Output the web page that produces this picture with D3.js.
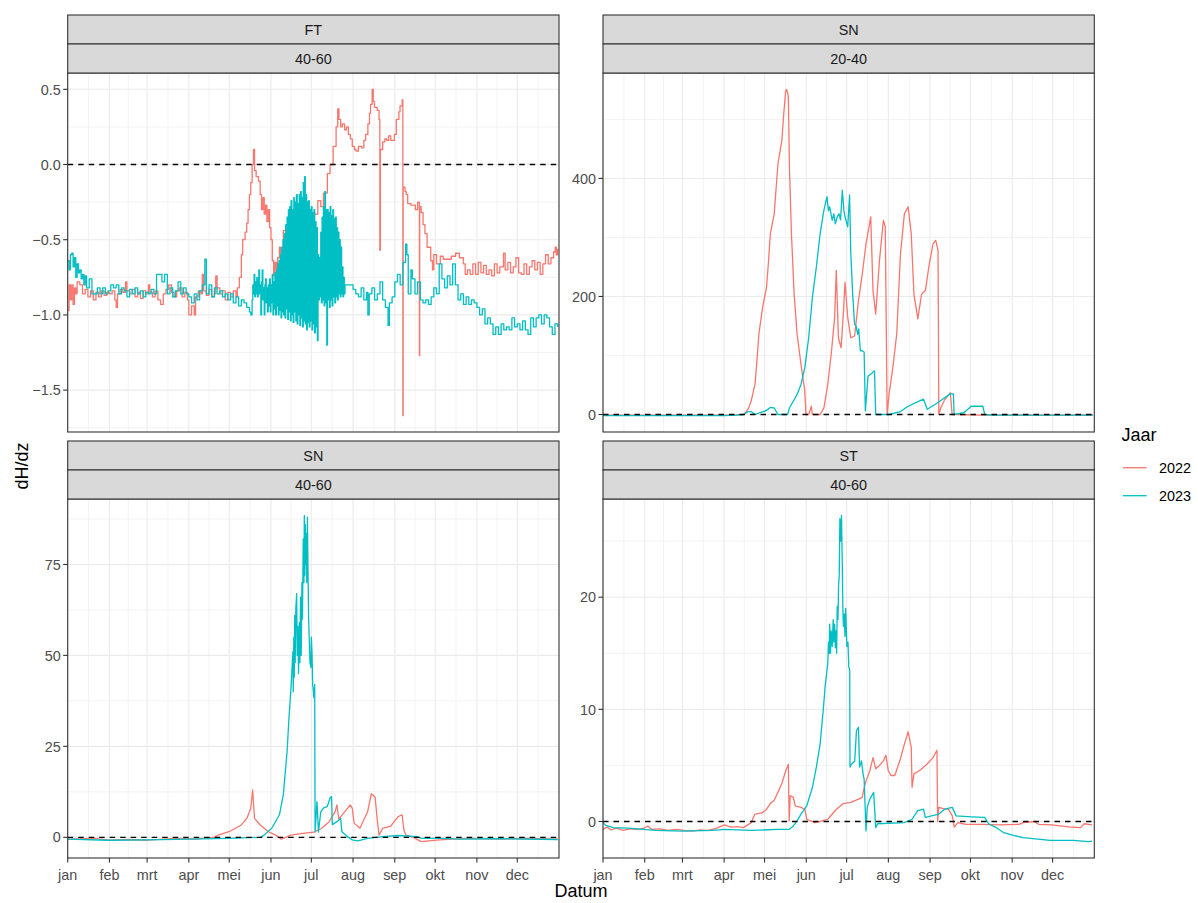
<!DOCTYPE html>
<html><head><meta charset="utf-8">
<script src="https://cdn.jsdelivr.net/npm/d3@7"></script>
<style>body{margin:0;background:#fff}svg{display:block;font-family:"Liberation Sans",Arial,sans-serif}</style>
</head><body><svg id="c" width="1198" height="903"></svg>
<script>
const monthLabels = ["jan","feb","mrt","apr","mei","jun","jul","aug","sep","okt","nov","dec"];
const yearLabels = ["2022","2023"];
const yearColors = ["#F8766D","#00BFC4"];
const stripTop = ["FT","SN","SN","ST"];
const stripBottom = ["40-60","20-40","40-60","40-60"];
const yTicks = [[-1.5,-1,-0.5,0,0.5],[0,200,400],[0,25,50,75],[0,10,20]];
const yFormats = [".1f","d","d","d"];
const stepPanels = [true,false,false,false];

// [day of year, dH/dz]
const ft4060_2022 = [[0,-0.97],[1,-0.8],[2,-0.9],[3,-0.8],[4,-0.93],[5,-0.82],[6,-0.86],[7,-0.78],[9,-0.8],[11,-0.86],[13,-0.83],[15,-0.88],[17,-0.84],[19,-0.9],[21,-0.85],[23,-0.88],[25,-0.84],[27,-0.87],[29,-0.85],[31,-0.86],[33,-0.84],[35,-0.9],[36,-0.95],[37,-0.86],[39,-0.83],[41,-0.85],[43,-0.78],[44,-0.84],[46,-0.86],[48,-0.83],[50,-0.88],[52,-0.85],[54,-0.89],[56,-0.84],[58,-0.86],[60,-0.8],[61,-0.85],[63,-0.88],[65,-0.84],[67,-0.9],[69,-0.93],[71,-0.86],[73,-0.83],[75,-0.8],[77,-0.85],[79,-0.88],[81,-0.84],[83,-0.82],[85,-0.88],[87,-0.85],[89,-0.9],[90,-1.0],[92,-0.94],[94,-1.0],[95,-0.88],[97,-0.84],[99,-0.86],[100,-0.73],[101,-0.84],[103,-0.87],[105,-0.83],[107,-0.88],[109,-0.86],[110,-0.74],[111,-0.82],[113,-0.86],[115,-0.84],[117,-0.9],[119,-0.85],[121,-0.88],[123,-0.84],[125,-0.88],[126,-0.82],[127.5,-0.75],[129,-0.6],[130,-0.5],[131.8,-0.45],[133,-0.39],[134,-0.3],[135,-0.2],[136,-0.12],[137,0.0],[138,0.1],[138.8,-0.04],[140,-0.08],[141.7,-0.11],[143,-0.2],[144,-0.3],[145,-0.22],[146,-0.33],[147,-0.27],[148,-0.38],[149,-0.3],[150,-0.42],[151,-0.5],[152,-0.64],[153,-0.74],[154,-0.65],[155,-0.7],[156,-0.62],[157.3,-0.55],[158,-0.6],[160.2,-0.44],[162,-0.42],[166,-0.38],[170,-0.4],[175,-0.35],[180,-0.37],[183,-0.33],[185.8,-0.24],[188,-0.28],[190,-0.19],[192.9,-0.06],[194.9,0.0],[197.2,0.12],[199.4,0.25],[200.6,0.37],[201.5,0.3],[202.8,0.25],[204,0.27],[205.7,0.23],[207,0.25],[208.5,0.2],[210,0.17],[211.4,0.12],[213,0.1],[214.2,0.09],[216,0.12],[218.5,0.11],[220,0.16],[221.3,0.2],[223,0.27],[224.2,0.34],[225,0.4],[226.2,0.5],[227,0.42],[227.9,0.38],[229.9,0.36],[231.3,0.3],[231.9,-0.57],[232.3,0.1],[232.7,0.1],[234,0.15],[235.6,0.17],[237,0.16],[238.4,0.19],[240,0.16],[242.7,0.2],[244.1,0.3],[246,0.35],[246.9,0.39],[248.5,0.43],[248.9,0.43],[249,-1.67],[249.2,-0.15],[250.6,-0.18],[251.5,-0.2],[252.6,-0.26],[255,-0.27],[258.3,-0.3],[260,-0.25],[261.2,-0.25],[261.3,-1.27],[261.5,-0.28],[262.6,-0.32],[264,-0.4],[265.4,-0.46],[267,-0.55],[269.7,-0.64],[271,-0.7],[272,-0.6],[274,-0.66],[276.8,-0.61],[279,-0.63],[282.5,-0.63],[285,-0.61],[288.2,-0.59],[291,-0.62],[293.9,-0.66],[295.3,-0.73],[297,-0.7],[299,-0.73],[301,-0.66],[303,-0.73],[305,-0.65],[307,-0.72],[309,-0.67],[311,-0.73],[313,-0.7],[315,-0.74],[317,-0.66],[319,-0.72],[321,-0.68],[323.8,-0.59],[325,-0.7],[327,-0.65],[329,-0.72],[331,-0.68],[333,-0.62],[335,-0.72],[337,-0.73],[339,-0.66],[341,-0.73],[343,-0.68],[345,-0.64],[347,-0.7],[349,-0.65],[351,-0.73],[353,-0.66],[355,-0.6],[357,-0.66],[359,-0.62],[361,-0.58],[362.2,-0.55],[363,-0.6],[364,-0.56]];
const ft4060_2023 = [[0,-0.64],[1,-0.7],[2,-0.6],[3,-0.59],[4,-0.68],[5,-0.62],[6,-0.75],[7,-0.66],[8,-0.72],[9,-0.7],[10,-0.76],[11,-0.73],[12,-0.8],[13,-0.74],[14,-0.82],[16,-0.76],[18,-0.86],[20,-0.86],[22,-0.82],[24,-0.86],[26,-0.82],[28,-0.86],[30,-0.84],[32,-0.8],[34,-0.82],[36,-0.8],[38,-0.86],[40,-0.82],[42,-0.84],[44,-0.88],[46,-0.83],[48,-0.86],[50,-0.82],[52,-0.86],[54,-0.84],[56,-0.88],[58,-0.85],[60,-0.86],[62,-0.83],[64,-0.86],[66,-0.73],[68,-0.73],[70,-0.78],[72,-0.73],[74,-0.86],[76,-0.82],[78,-0.88],[80,-0.84],[82,-0.78],[84,-0.86],[86,-0.82],[88,-0.86],[90,-0.88],[92,-0.92],[94,-0.86],[96,-0.9],[98,-0.84],[100,-0.8],[101.9,-0.63],[103,-0.86],[105,-0.8],[107,-0.88],[109,-0.82],[111,-0.86],[113,-0.84],[115,-0.88],[117,-0.86],[119,-0.9],[121,-0.86],[123,-0.92],[125,-0.88],[127,-0.94],[129,-0.9],[131,-0.92],[133,-0.95],[135,-0.98],[136,-1.0],
[137,-0.9],[137.5,-0.8],[138,-0.86],[138.5,-0.73],[139,-0.88],[139.5,-0.78],[140,-0.86],[140.5,-0.75],[141,-0.88],[141.5,-0.8],[142,-0.7],[142.5,-0.86],[143,-0.8],[143.5,-1.0],[144,-0.78],[144.5,-0.7],[145,-0.9],[145.5,-0.82],[146,-1.0],[146.5,-0.8],[147,-0.76],[147.5,-0.92],[148,-0.82],[148.5,-0.98],
[149,-0.8],[149.5,-0.94],[150,-0.76],[150.5,-0.98],[151,-0.8],[151.5,-0.92],[152,-0.73],[152.5,-1.0],[153,-0.78],[153.5,-0.96],[154,-0.72],[154.5,-1.0],[155,-0.7],[155.5,-0.94],[156,-0.66],[156.5,-1.0],[157,-0.64],[157.5,-0.97],[158,-0.6],[158.5,-1.02],[159,-0.55],[159.5,-0.98],[160,-0.5],[160.5,-1.0],[161,-0.46],[161.5,-1.02],[162,-0.4],[162.5,-0.96],[163,-0.35],[163.5,-1.03],[164,-0.3],[164.5,-0.98],[165,-0.28],[165.5,-1.04],[166,-0.24],[166.5,-1.0],[167,-0.3],[167.5,-1.05],[168,-0.22],[168.5,-0.98],[169,-0.25],[169.5,-1.04],[170,-0.2],[170.5,-1.06],[171,-0.26],[171.5,-1.0],[172,-0.2],[172.5,-1.07],[173,-0.18],[173.5,-1.02],[174,-0.22],[174.5,-1.08],[175,-0.12],[175.5,-1.04],[176,-0.08],[176.5,-1.06],[177,-0.2],[177.5,-1.1],[178,-0.25],[178.5,-1.05],[179,-0.24],[179.5,-1.08],[180,-0.3],[180.5,-1.04],[181,-0.28],[181.5,-1.1],[182,-0.32],[182.5,-1.06],[183,-0.3],[183.5,-1.12],[184,-0.38],[184.5,-1.08],[185,-0.42],[185.5,-1.17],[186,-0.6],[186.5,-0.9],[187,-0.62],[187.5,-0.88],[188,-0.45],[188.5,-0.92],[189,-0.35],[189.5,-0.9],[190,-0.28],[190.5,-0.94],[191,-0.18],[191.5,-0.92],[192,-0.3],[192.5,-1.2],[193,-0.3],[193.5,-0.9],[194,-0.32],[194.5,-0.95],[195,-0.28],[195.5,-0.9],[196,-0.34],[196.5,-0.94],[197,-0.3],[197.5,-0.88],[198,-0.36],[198.5,-0.92],[199,-0.35],[199.5,-0.88],[200,-0.42],[200.5,-0.9],[201,-0.45],[201.5,-0.86],[202,-0.5],[202.5,-0.88],[203,-0.55],[203.5,-0.86],[204,-0.68],[204.5,-0.88],[205,-0.75],[205.5,-0.86],[206,-0.8],
[207,-0.8],[208,-0.8],[210,-0.8],[212,-0.83],[214,-0.86],[216,-0.88],[218,-0.82],[220,-0.9],[222,-0.85],[223,-1.0],[224,-0.86],[226,-0.82],[228,-0.9],[230,-0.86],[232,-0.78],[234,-0.9],[236,-0.95],[238,-1.07],[239,-0.92],[241,-0.88],[243,-0.78],[245,-0.73],[247,-0.8],[249,-0.65],[251,-0.53],[252,-0.6],[253,-0.86],[255,-0.7],[256,-0.76],[258,-0.86],[260,-0.78],[262,-0.9],[264,-0.92],[266,-0.9],[268,-0.93],[270,-0.88],[272,-0.82],[274,-0.86],[276,-0.66],[278,-0.76],[280,-0.82],[282,-0.74],[284,-0.8],[286,-0.66],[288,-0.8],[290,-0.9],[292,-0.86],[294,-0.93],[296,-0.88],[298,-0.93],[300,-0.9],[302,-0.92],[304,-0.95],[306,-1.0],[308,-0.96],[310,-1.06],[312,-1.02],[314,-1.06],[316,-1.13],[318,-1.08],[320,-1.13],[322,-1.06],[324,-1.1],[326,-1.08],[328,-1.1],[330,-1.02],[332,-1.08],[334,-1.06],[336,-1.1],[338,-1.04],[340,-1.1],[342,-1.13],[344,-1.02],[346,-1.08],[348,-1.02],[350,-1.0],[352,-1.06],[354,-1.0],[356,-1.02],[358,-1.08],[360,-1.13],[362,-1.06],[364,-1.08]];
const sn2040_2022 = [[0,-1],[20,-1],[40,-1],[60,-1],[80,-1],[100,-0.5],[104.4,0],[105.8,3],[108,10],[110.1,23],[112.9,51],[114,80],[115.8,136],[118.6,182],[121.5,216],[123,260],[124.3,306],[127.2,340],[128.5,380],[130,425],[132.9,465],[134.3,510],[135.7,548],[136.5,551],[137.7,539],[138.5,420],[140,306],[142,204],[144.2,136],[147.1,85],[149.9,40],[150.8,0],[152.8,0],[154.8,14],[155.5,0],[161.3,0],[164.1,11],[167,51],[169.8,108],[172.1,165],[173.3,244],[174.9,130],[176.9,113],[178.4,165],[179.8,224],[181.8,165],[184.1,130],[186.9,133],[189.8,193],[192.6,238],[195.4,289],[197,310],[198.9,335],[200.6,210],[202.6,170],[205.4,261],[208.3,329],[209.7,318],[211.1,0],[212.5,34],[215.3,79],[218.2,136],[221,272],[223.9,340],[226.7,352],[229,306],[231,204],[233.9,162],[236.7,204],[239.5,210],[242.4,255],[245.2,289],[247.2,295],[248.9,278],[249.5,0],[250.9,11],[253.8,25],[258,37],[259.4,0],[263.7,0],[280,-1],[300,-1],[320,-1],[340,-1],[364,-1]];
const sn2040_2023 = [[0,-2],[30,-2],[60,-2],[90,-2],[98.7,-1],[104.4,0],[108,5],[110.1,5],[112.9,0],[121.5,7],[124.3,12],[127.2,11],[130,0],[137.1,0],[138.5,11],[142,25],[144.2,34],[147.1,51],[149.9,79],[152.8,130],[155.6,199],[158.5,250],[161.3,306],[164.1,346],[166.4,369],[167.5,345],[168.4,352],[170.3,329],[171.5,340],[172.6,323],[174,335],[175.4,340],[176.5,330],[177.8,380],[179,345],[179.8,335],[181,325],[181.8,318],[183.2,372],[184.1,272],[185.5,204],[186.9,153],[188,150],[189.2,136],[190,145],[191.2,108],[192.6,108],[194,106],[194.9,6],[196.9,65],[199.7,70],[201.7,74],[202.6,0],[212.5,0],[221,5],[226.7,14],[232.4,20],[238.1,26],[240.9,9],[246.7,17],[252.3,26],[258,35],[260.3,35],[260.9,0],[268,3],[273.7,14],[282.2,14],[283.6,0],[290,-1],[320,-1],[364,-1]];
const sn4060_2022 = [[0,-0.5],[20,-0.3],[31,-0.8],[45,-0.6],[59,-0.8],[80,-0.3],[95,-0.5],[100,-0.3],[109,0],[111.8,0.6],[120.3,1.6],[128.9,3.4],[133.1,5.2],[136,8],[137.4,13],[138.8,5.2],[143.1,3.4],[148.8,1.6],[154.5,0.6],[158.7,-0.5],[165.9,0.6],[174.4,1.1],[182.9,1.4],[188.6,2.5],[194.3,4.3],[198.6,7],[200,8.9],[201.4,5],[205.7,7],[210,8.9],[211.4,8],[212.8,3.9],[217.1,2.5],[222.8,7],[225.6,12],[228.4,11],[229.9,5],[231.3,0.6],[234.1,2.5],[239.8,3],[245.5,5.7],[248.4,6.2],[249.8,2],[251.2,0.6],[256.9,0],[262.6,-1.2],[274,-0.8],[285.3,-0.5],[300,-0.3],[320,-0.5],[340,-0.3],[364,-0.5]];
const sn4060_2023 = [[0,-0.5],[30,-0.8],[60,-0.7],[90,-0.5],[120,-0.3],[143.1,0],[145.9,0.6],[151.6,2.5],[157.3,6.2],[160.2,11.7],[163,23.6],[164.4,32.9],[165.9,41],[167.3,51],[167.6,40],[168,55],[168.3,44],[168.7,61],[169,48],[169.5,63],[170.1,67],[170.5,50],[171,58],[171.5,45],[172.1,59],[172.5,48],[173,66],[173.5,50],[174,70],[174.4,60],[175,82],[175.5,70],[175.8,88.5],[176.2,72],[176.5,86],[177,75],[177.2,83.5],[177.6,70],[178.1,88],[178.5,74],[179,60],[179.5,54],[180,48],[180.7,46.7],[181,55],[181.5,51],[182,42],[182.5,40],[182.9,38.4],[183.5,42],[183.8,1.5],[185.2,9.8],[186.3,1.5],[188,7],[190,8],[192.9,8.5],[194.9,10.8],[196,11.2],[196.6,3.5],[200,4.3],[202.8,5.2],[203.7,1.5],[207.1,0.4],[211.4,-0.7],[215.6,-1],[222.8,-0.3],[234.1,0.2],[245.5,0.5],[259.7,0.2],[262.6,-0.3],[276.8,-0.3],[291,-0.5],[320,-0.4],[364,-0.6]];
const st4060_2022 = [[0,-0.7],[3,-0.5],[6,-0.75],[10,-0.6],[15,-0.8],[20,-0.65],[25,-0.7],[30,-0.62],[33.3,-0.4],[36,-0.7],[42,-0.65],[48,-0.8],[55,-0.7],[60,-0.8],[66,-0.85],[72,-0.75],[78,-0.8],[84,-0.62],[90.2,-0.3],[95,-0.5],[100,-0.45],[104.4,-0.55],[110.1,-0.1],[112.9,0.66],[118.6,0.8],[121.5,1.1],[124.3,1.6],[127.2,1.9],[130,2.6],[132.9,3.4],[135.7,4.5],[137.7,5.1],[138.3,0.06],[139.1,2.3],[141.4,2.15],[142.8,1.4],[147.1,1.26],[149.9,1.1],[151.4,0.2],[154.2,0.06],[157,-0.1],[161.3,0.0],[167,0.2],[172.7,1.0],[178.4,1.6],[184.1,1.7],[189.8,2.0],[192.6,2.15],[194,3.0],[195.4,3.6],[198.3,4.55],[200.6,5.7],[202.6,4.7],[205.4,5.0],[208.3,5.4],[210.2,5.9],[211.9,4.55],[213.9,4.1],[216.8,4.1],[221,5.6],[223.9,6.9],[226.7,8.0],[229,6.6],[229.6,3.05],[231,4.25],[235.3,4.55],[241,5.15],[245.2,5.7],[248.1,6.35],[248.6,0.0],[249.5,1.26],[253.8,1.1],[256.6,1.1],[259.5,0.5],[260.9,-0.5],[263.7,-0.1],[269.4,-0.25],[280.8,-0.25],[295,-0.3],[309.2,-0.25],[312.1,-0.1],[320.6,0.0],[323.5,-0.25],[333.4,-0.3],[346.2,-0.48],[354.8,-0.55],[357.6,-0.2],[363.3,-0.3]];
const st4060_2023 = [[0,-0.1],[2,-0.35],[7.6,-0.55],[19,-0.6],[38.9,-0.8],[59,-0.85],[81.6,-0.8],[90.2,-0.7],[110.1,-0.8],[130,-0.7],[138.5,-0.7],[141.4,-0.4],[144.2,0.06],[147.1,0.66],[151.4,1.4],[155.6,3.05],[158.5,4.85],[161.3,6.9],[163.6,9.9],[165,12],[167,14.1],[167.5,16],[168,15],[168.4,17.6],[169,15],[169.5,17],[170.3,15.6],[171,18],[171.5,16],[172.1,17.6],[172.6,15.5],[173.2,17],[173.6,15],[174,19.2],[174.6,18],[175,21],[175.5,21.9],[175.8,25],[176,27],[176.5,25],[177.2,27.3],[177.6,24],[177.8,22.8],[178.2,19],[178.6,17.4],[179.2,18.5],[179.8,16.5],[180.3,19],[181.2,15.6],[182,16],[182.6,13.8],[183.3,13.5],[183.5,4.85],[184.6,5.1],[187,5.4],[188.3,8.1],[189.8,8.4],[190.6,4.85],[192,5.4],[193.4,4.1],[194,3.8],[195.4,-0.84],[196.3,1.26],[198.3,2.0],[201.1,2.6],[202.6,-0.55],[204,-0.2],[223.9,-0.1],[229.6,0.2],[233.8,0.96],[238.1,1.1],[239.5,0.36],[249.5,0.66],[253.8,1.1],[259.5,1.26],[262.3,0.5],[273.7,0.42],[283.6,0.36],[286.5,-0.2],[292.1,-0.54],[297.8,-1.0],[303.5,-1.2],[312.1,-1.44],[332.2,-1.68],[349.3,-1.68],[360.7,-1.8],[363.3,-1.75]];

const panelSeries = [[ft4060_2022, ft4060_2023],[sn2040_2022, sn2040_2023],[sn4060_2022, sn4060_2023],[st4060_2022, st4060_2023]];

const svg = d3.select("#c");
const colX = [67.7, 603], rowY = [15, 441];
const PW = 491.3, SH = 29, PH = 359;
const t0 = Date.UTC(2022,0,1);
const toDate = d => new Date(t0 + d*864e5);
const x = d3.scaleUtc().domain([new Date(t0), new Date(Date.UTC(2023,0,1))]).range([0, PW]);
const months = d3.utcMonth.range(new Date(t0), new Date(Date.UTC(2023,0,1)));
const monthEdges = months.concat([new Date(Date.UTC(2023,0,1))]);
const minorX = d3.pairs(monthEdges).map(([a,b]) => new Date((+a + +b)/2));
const grey20 = "#333333";

panelSeries.forEach((series, i) => {
  const col = i % 2, row = Math.floor(i / 2);
  const gx = colX[col], gy = rowY[row] + 2*SH;
  const all = series.flat().map(d => d[1]);
  const [mn, mx] = d3.extent(all);
  const R = mx - mn;
  const y = d3.scaleLinear().domain([mn - 0.05*R, mx + 0.05*R]).range([PH, 0]);
  const tk = yTicks[i];
  const step = tk[1] - tk[0];
  const minorY = [];
  for (let k = -1; k < tk.length; k++) {
    const v = tk[0] + (k + 0.5)*step;
    if (v > y.domain()[0] && v < y.domain()[1]) minorY.push(v);
  }
  const g = svg.append("g").attr("transform", `translate(${gx},${gy})`);
  g.append("rect").attr("width", PW).attr("height", PH).attr("fill", "#fff");
  g.selectAll(".mny").data(minorY).join("line").attr("x1",0).attr("x2",PW)
    .attr("y1", d=>y(d)).attr("y2", d=>y(d)).attr("stroke","#EBEBEB").attr("stroke-width",0.6);
  g.selectAll(".mnx").data(minorX).join("line").attr("y1",0).attr("y2",PH)
    .attr("x1", d=>x(d)).attr("x2", d=>x(d)).attr("stroke","#EBEBEB").attr("stroke-width",0.6);
  g.selectAll(".mjy").data(tk).join("line").attr("x1",0).attr("x2",PW)
    .attr("y1", d=>y(d)).attr("y2", d=>y(d)).attr("stroke","#EBEBEB").attr("stroke-width",1.1);
  g.selectAll(".mjx").data(months).join("line").attr("y1",0).attr("y2",PH)
    .attr("x1", d=>x(d)).attr("x2", d=>x(d)).attr("stroke","#EBEBEB").attr("stroke-width",1.1);
  const cid = "clip" + i;
  g.append("clipPath").attr("id", cid).append("rect").attr("width", PW).attr("height", PH);
  const line = d3.line().x(d => x(toDate(d[0]))).y(d => y(d[1]))
    .curve(stepPanels[i] ? d3.curveStepAfter : d3.curveLinear);
  const lg = g.append("g").attr("clip-path", `url(#${cid})`);
  series.forEach((s, j) => {
    lg.append("path").attr("d", line(s)).attr("fill","none")
      .attr("stroke", yearColors[j]).attr("stroke-width", 1.3).attr("stroke-linejoin","round");
  });
  lg.append("line").attr("x1",0).attr("x2",PW).attr("y1",y(0)).attr("y2",y(0))
    .attr("stroke","#000").attr("stroke-width",1.3).attr("stroke-dasharray","5.5,5");
  g.append("rect").attr("width", PW).attr("height", PH).attr("fill","none")
    .attr("stroke", grey20).attr("stroke-width", 1.1);
  const fmt = d3.format(yFormats[i]);
  tk.forEach(v => {
    g.append("line").attr("x1",-4.5).attr("x2",0).attr("y1",y(v)).attr("y2",y(v))
      .attr("stroke", grey20).attr("stroke-width",1.1);
    g.append("text").attr("x",-7).attr("y",y(v)).attr("dy","0.36em").attr("text-anchor","end")
      .attr("font-size","14.4px").attr("fill","#4D4D4D").text(fmt(v));
  });
  if (row === 1) {
    months.forEach((m, k) => {
      g.append("line").attr("x1",x(m)).attr("x2",x(m)).attr("y1",PH).attr("y2",PH+4.5)
        .attr("stroke", grey20).attr("stroke-width",1.1);
      g.append("text").attr("x",x(m)).attr("y",PH+21.5).attr("text-anchor","middle")
        .attr("font-size","14.4px").attr("fill","#4D4D4D").text(monthLabels[k]);
    });
  }
  [stripTop[i], stripBottom[i]].forEach((lab, k) => {
    const sy = rowY[row] + k*SH;
    svg.append("rect").attr("x", gx).attr("y", sy).attr("width", PW).attr("height", SH)
      .attr("fill","#D9D9D9").attr("stroke", grey20).attr("stroke-width",1.1);
    svg.append("text").attr("x", gx + PW/2).attr("y", sy + SH/2).attr("dy","0.36em")
      .attr("text-anchor","middle").attr("font-size","14.4px").attr("fill","#1A1A1A").text(lab);
  });
});

svg.append("text").attr("x", 581).attr("y", 897).attr("text-anchor","middle")
  .attr("font-size","18px").attr("fill","#000").text("Datum");
svg.append("text").attr("transform","translate(28,466) rotate(-90)").attr("text-anchor","middle")
  .attr("font-size","18px").attr("fill","#000").text("dH/dz");

svg.append("text").attr("x",1121.5).attr("y",441).attr("font-size","18px").attr("fill","#000").text("Jaar");
yearLabels.forEach((lab, j) => {
  const ly = 467.7 + j*28;
  svg.append("line").attr("x1",1123).attr("x2",1146.7).attr("y1",ly).attr("y2",ly)
    .attr("stroke", yearColors[j]).attr("stroke-width",1.3);
  svg.append("text").attr("x",1159).attr("y",ly).attr("dy","0.36em").attr("font-size","14.4px")
    .attr("fill","#000").text(lab);
});
</script>
</body></html>
